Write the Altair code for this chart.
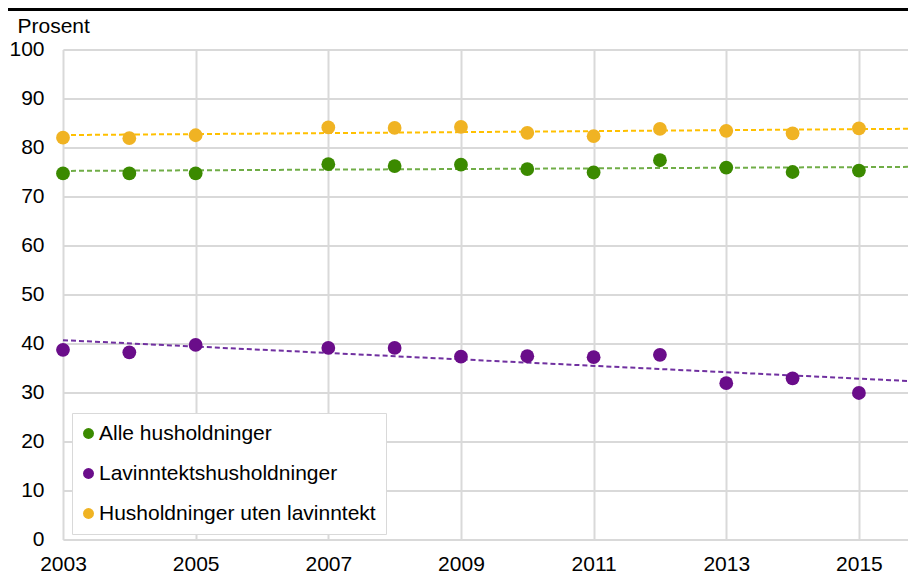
import altair as alt
import pandas as pd

years = [2003, 2004, 2005, 2007, 2008, 2009, 2010, 2011, 2012, 2013, 2014, 2015]
alle = [74.7, 74.7, 74.7, 76.6, 76.2, 76.5, 75.6, 74.9, 77.4, 75.9, 75.0, 75.3]
lav = [38.7, 38.2, 39.7, 39.1, 39.1, 37.3, 37.4, 37.2, 37.7, 31.9, 32.9, 29.9]
uten = [82.0, 81.9, 82.5, 84.1, 84.0, 84.2, 83.0, 82.3, 83.8, 83.4, 82.9, 83.9]

series_names = ["Alle husholdninger", "Lavinntektshusholdninger", "Husholdninger uten lavinntekt"]
point_colors = ["#3b8a00", "#6a0d8a", "#f0b323"]
trend_colors = ["#70ad47", "#7030a0", "#ffc000"]
x_ticks = [2003, 2005, 2007, 2009, 2011, 2013, 2015]
y_ticks = [0, 10, 20, 30, 40, 50, 60, 70, 80, 90, 100]

rows = []
for name, vals in zip(series_names, [alle, lav, uten]):
    for y, v in zip(years, vals):
        rows.append({"year": y, "value": v, "series": name})
df = pd.DataFrame(rows)

FONT = "Liberation Sans"
x_dom = [2003, 2015.74]

xenc = alt.X("year:Q", scale=alt.Scale(domain=x_dom, nice=False, zero=False),
             axis=alt.Axis(values=x_ticks, format="d", title=None, domain=False, ticks=False,
                           tickSize=0, labelPadding=14, labelFontSize=21, labelFont=FONT,
                           labelColor="black", grid=True, gridColor="#d9d9d9", gridWidth=2,
                           labelFlush=False))
yenc = alt.Y("value:Q", scale=alt.Scale(domain=[0, 100], nice=False),
             axis=alt.Axis(values=y_ticks, title="Prosent", titleAngle=0, titleAlign="left",
                           titleBaseline="alphabetic", titleX=-46, titleY=-17.5,
                           titleFontSize=21, titleFont=FONT, titleFontWeight="normal",
                           titleColor="black", domain=False, ticks=False, tickSize=0,
                           labelPadding=19, labelFontSize=21, labelFont=FONT,
                           labelColor="black", grid=True, gridColor="#d9d9d9", gridWidth=2))

base = alt.Chart(df)

trend = base.transform_regression(
    "year", "value", groupby=["series"], extent=x_dom
).transform_calculate(
    trend="datum.series"
).mark_line(strokeDash=[5, 3], strokeWidth=2, clip=True).encode(
    x=alt.X("year:Q", scale=alt.Scale(domain=x_dom, nice=False, zero=False)),
    y=alt.Y("value:Q"),
    stroke=alt.Stroke("trend:N", scale=alt.Scale(domain=series_names, range=trend_colors),
                      legend=None),
)

points = base.mark_circle(size=190, opacity=1).encode(
    x=xenc,
    y=yenc,
    color=alt.Color("series:N", scale=alt.Scale(domain=series_names, range=point_colors),
                    sort=series_names,
                    legend=alt.Legend(title=None, orient="none", legendX=9, legendY=363.5,
                                      direction="vertical", fillColor="white",
                                      strokeColor="#d9d9d9", padding=10,
                                      labelFontSize=21, labelFont=FONT, labelColor="black",
                                      symbolType="circle", symbolSize=120, symbolOpacity=1,
                                      symbolStrokeWidth=0, rowPadding=18, labelOffset=0,
                                      symbolOffset=-4, labelLimit=400)),
)

topbar = alt.Chart(pd.DataFrame({"a": [0]})).mark_rule(color="black", strokeWidth=3).encode(
    x=alt.value(-55), x2=alt.value(845), y=alt.value(-40)
)

chart = alt.layer(trend, points, topbar).resolve_scale(
    color="independent", stroke="independent"
).properties(
    width=845, height=490,
    autosize=alt.AutoSizeParams(type="none"),
    padding={"left": 55, "top": 41.5, "right": 0, "bottom": 34},
).configure_view(stroke=None).configure(font=FONT)

chart.save("out.html", embed_options={"renderer": "svg", "actions": False})
